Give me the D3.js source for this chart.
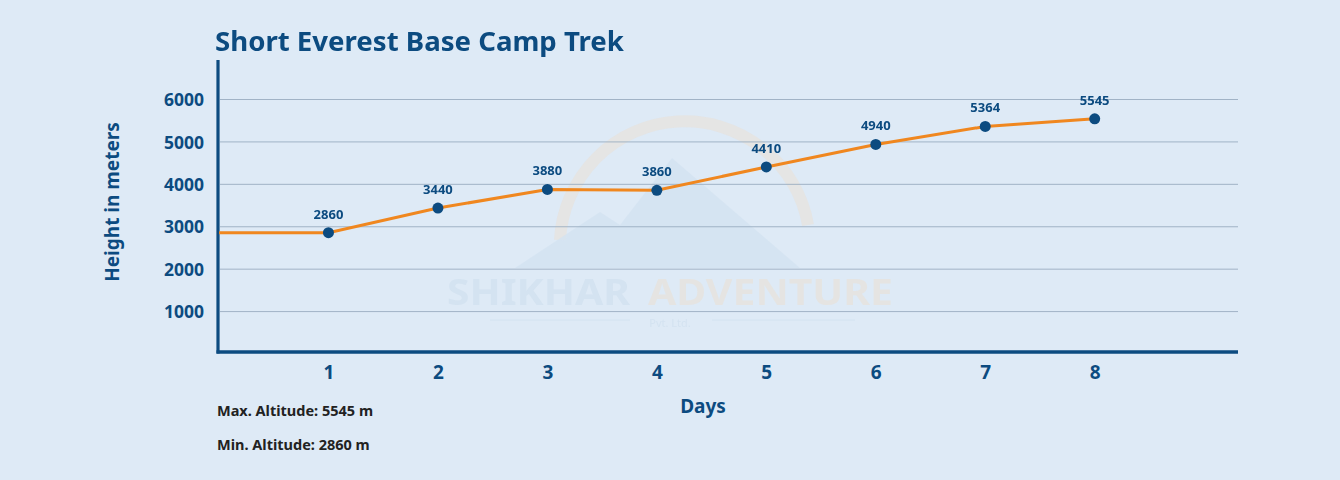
<!DOCTYPE html>
<html><head><meta charset="utf-8">
<script src="https://cdn.jsdelivr.net/npm/d3@7"></script>
<style>html,body{margin:0;padding:0;background:#deeaf6;}svg{display:block;}</style>
</head><body>
<script>
const days = [1, 2, 3, 4, 5, 6, 7, 8];
const altitudes = [2860, 3440, 3880, 3860, 4410, 4940, 5364, 5545];
const startAltitude = 2860; // line starts flat from the y axis at day 0
const yTicks = [1000, 2000, 3000, 4000, 5000, 6000];
const title = "Short Everest Base Camp Trek";
const yLabel = "Height in meters";
const xLabel = "Days";
const notes = ["Max. Altitude: 5545 m", "Min. Altitude: 2860 m"];

const W = 1340, H = 480;
const dark = "#0c4b80", orange = "#f0871f", font = "'Noto Sans', 'Open Sans', sans-serif";
const svg = d3.select("body").append("svg").attr("width", W).attr("height", H);
svg.append("rect").attr("width", W).attr("height", H).attr("fill", "#deeaf6");

const x = d3.scaleLinear().domain([0, 9.3]).range([219, 1237]);
const y = d3.scaleLinear().domain([0, 6000]).range([354, 99.5]);

// watermark
const wm = svg.append("g").attr("opacity", 0.5);
wm.append("path").attr("d", "M 560 240 A 125 125 0 0 1 808 225").attr("fill", "none")
  .attr("stroke", "#f3d9bd").attr("stroke-width", 12).attr("opacity", 0.6);
wm.append("path").attr("d", "M 515 268 L 600 212 L 620 225 L 672 158 L 800 268 Z").attr("fill", "#c9dced").attr("opacity", 0.8);
wm.append("text").attr("x", 447).attr("y", 305).attr("font-family", font).attr("font-weight", 700)
  .attr("font-size", 36).attr("textLength", 183).attr("lengthAdjust", "spacingAndGlyphs")
  .attr("fill", "#cadcec").text("SHIKHAR");
wm.append("text").attr("x", 648).attr("y", 305).attr("font-family", font).attr("font-weight", 700)
  .attr("font-size", 36).attr("textLength", 245).attr("lengthAdjust", "spacingAndGlyphs")
  .attr("fill", "#ecdfcf").text("ADVENTURE");
wm.append("text").attr("x", 670).attr("y", 327).attr("text-anchor", "middle").attr("font-family", font)
  .attr("font-size", 11).attr("fill", "#cadcec").text("Pvt. Ltd.");
wm.append("line").attr("x1", 490).attr("x2", 630).attr("y1", 320).attr("y2", 320).attr("stroke", "#cadcec");
wm.append("line").attr("x1", 712).attr("x2", 855).attr("y1", 320).attr("y2", 320).attr("stroke", "#cadcec");

// gridlines
svg.append("g").selectAll("line").data(yTicks).join("line")
  .attr("x1", 220).attr("x2", 1238).attr("y1", d => y(d)).attr("y2", d => y(d))
  .attr("stroke", "#9aadc1").attr("stroke-width", 0.9);

// y axis labels
const yAxis = svg.append("g").attr("transform", "translate(204,0)")
  .call(d3.axisLeft(y).tickValues(yTicks).tickSize(0).tickPadding(0).tickFormat(d3.format("d")));
yAxis.select(".domain").remove();
yAxis.selectAll("text").attr("font-family", font).attr("font-weight", 700).attr("font-size", 17.5)
  .attr("fill", dark).attr("dy", "0.35em");

const xAxis = svg.append("g").attr("transform", "translate(0,365)")
  .call(d3.axisBottom(x).tickValues(days).tickSize(0).tickPadding(0).tickFormat(d3.format("d")));
xAxis.select(".domain").remove();
xAxis.selectAll("text").attr("font-family", font).attr("font-weight", 700).attr("font-size", 19)
  .attr("fill", dark).attr("dy", "0.71em");

// axis lines
svg.append("line").attr("x1", 218).attr("x2", 218).attr("y1", 60).attr("y2", 353.5)
  .attr("stroke", dark).attr("stroke-width", 3.2);
svg.append("line").attr("x1", 216.5).attr("x2", 1238).attr("y1", 352).attr("y2", 352)
  .attr("stroke", dark).attr("stroke-width", 3.5);

// line
const pts = [[0, startAltitude]].concat(days.map((d, i) => [d, altitudes[i]]));
svg.append("path").datum(pts)
  .attr("d", d3.line().x(d => x(d[0])).y(d => y(d[1])))
  .attr("fill", "none").attr("stroke", orange).attr("stroke-width", 3);
svg.append("g").selectAll("circle").data(days).join("circle")
  .attr("cx", d => x(d)).attr("cy", (d, i) => y(altitudes[i])).attr("r", 5.5).attr("fill", dark);
svg.append("g").selectAll("text").data(days).join("text")
  .attr("x", d => x(d)).attr("y", (d, i) => y(altitudes[i]) - 14)
  .attr("text-anchor", "middle").attr("font-family", font).attr("font-weight", 700)
  .attr("font-size", 13).attr("fill", dark).text((d, i) => altitudes[i]);

// title
const t = svg.append("text").attr("x", 215).attr("y", 51).attr("font-family", font)
  .attr("font-weight", 700).attr("font-size", 27).attr("fill", dark).text(title);
const tw = t.node().getComputedTextLength();
t.attr("font-size", 27 * 409 / tw);

// axis titles
svg.append("text").attr("transform", "translate(119,202) rotate(-90)").attr("text-anchor", "middle")
  .attr("font-family", font).attr("font-weight", 700).attr("font-size", 19).attr("fill", dark).text(yLabel);
svg.append("text").attr("x", 703).attr("y", 413).attr("text-anchor", "middle")
  .attr("font-family", font).attr("font-weight", 700).attr("font-size", 19).attr("fill", dark).text(xLabel);

svg.append("g").selectAll("text").data(notes).join("text")
  .attr("x", 217).attr("y", (d, i) => 416 + i * 34).attr("font-family", font).attr("font-weight", 700)
  .attr("font-size", 14.5).attr("fill", "#222").text(d => d);
</script>
</body></html>
